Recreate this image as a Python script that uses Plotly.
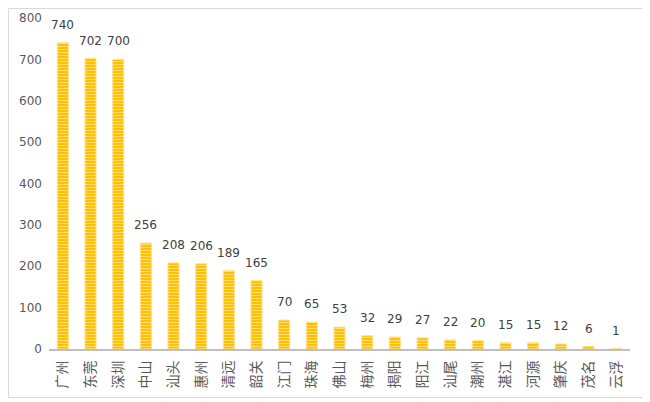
import plotly.graph_objects as go

cities = ['广州', '东莞', '深圳', '中山', '汕头', '惠州', '清远', '韶关', '江门', '珠海',
          '佛山', '梅州', '揭阳', '阳江', '汕尾', '潮州', '湛江', '河源', '肇庆', '茂名', '云浮']
values = [740, 702, 700, 256, 208, 206, 189, 165, 70, 65,
          53, 32, 29, 27, 22, 20, 15, 15, 12, 6, 1]
y_ticks = [0, 100, 200, 300, 400, 500, 600, 700, 800]

fig = go.Figure()

fig.add_trace(go.Bar(
    x=cities, y=values,
    marker=dict(
        color='#FFC000',
        line=dict(color='#FFE08A', width=1),
        pattern=dict(shape='-', bgcolor='#FFC000', fgcolor='#FFE08A',
                     size=3, solidity=0.3, fillmode='replace'),
    ),
    showlegend=False,
))

# value labels sit a little higher above the bars than plotly's 'outside' text
for c, v in zip(cities, values):
    fig.add_annotation(x=c, y=v, text=str(v), showarrow=False,
                       yanchor='bottom', yshift=9,
                       font=dict(size=12, color='#404040', family='DejaVu Sans'))

# the page has an 8px body margin, so the figure is sized to fit the window
W, H = 642, 394
L, R, T, B = 41, 20, 10, 53
pw, ph = W - L - R, H - T - B

fig.update_layout(
    width=W, height=H,
    margin=dict(l=L, r=R, t=T, b=B),
    paper_bgcolor='white',
    plot_bgcolor='white',
    bargap=0.6,
    font=dict(family='Noto Sans CJK SC, sans-serif', color='#595959'),
    xaxis=dict(
        tickangle=-90,
        tickfont=dict(size=14, color='#595959'),
        showline=True, linecolor='#BFBFBF', linewidth=2,
        showgrid=False, ticks='', automargin=False,
        ticklabelstandoff=4,
    ),
    yaxis=dict(
        range=[0, 800],
        tickvals=y_ticks,
        tickfont=dict(size=12, color='#595959', family='DejaVu Sans'),
        showgrid=False, zeroline=False, showline=False,
        ticklabelstandoff=6, automargin=False,
    ),
    shapes=[dict(type='rect', xref='paper', yref='paper',
                 x0=-(L - 0.5) / pw, x1=1 + (R - 2.5) / pw,
                 y0=-(B - 4.5) / ph, y1=1 + (T - 0.5) / ph,
                 line=dict(color='#D9D9D9', width=1))],
)

fig.write_html("out.html")
